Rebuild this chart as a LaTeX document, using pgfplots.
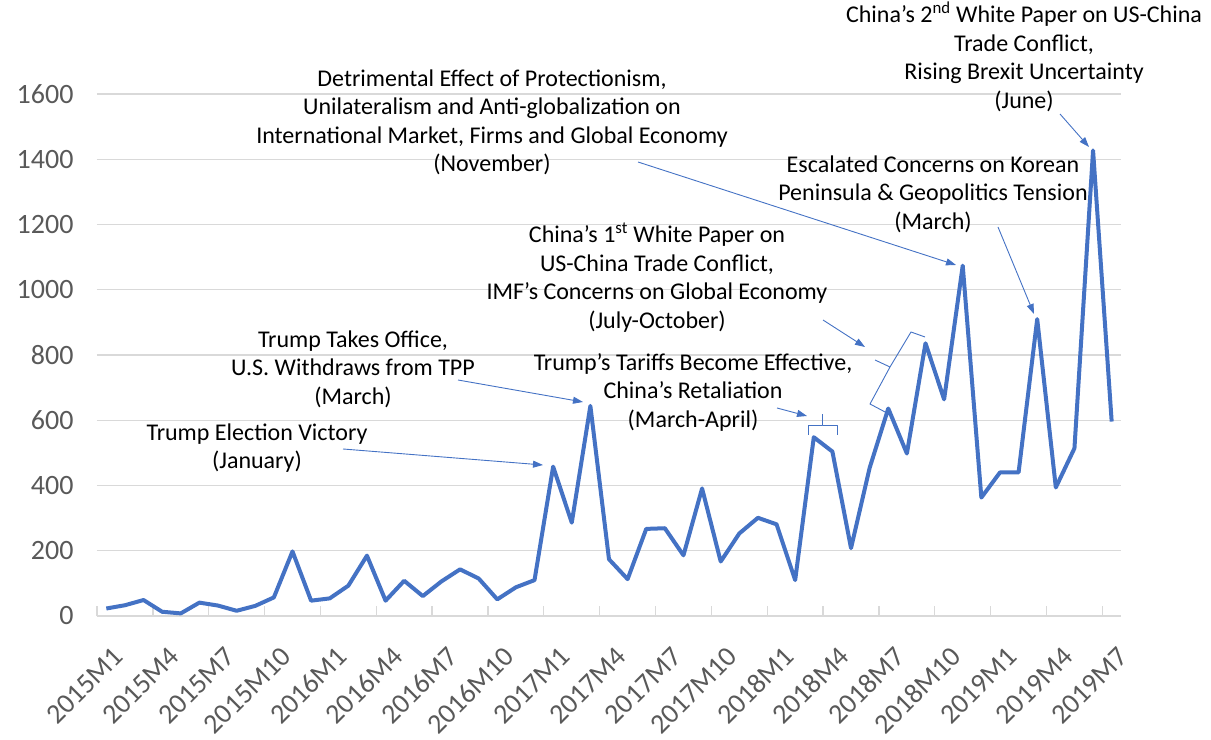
\documentclass[border=0pt]{standalone}
\usepackage{fontspec}
\setmainfont{Carlito}
\usepackage{pgfplots}
\pgfplotsset{compat=1.18}
\usetikzlibrary{arrows.meta}
\definecolor{exblue}{HTML}{4472C4}
\definecolor{tickgray}{HTML}{595959}
\definecolor{gridgray}{HTML}{D9D9D9}
\begin{document}
\begin{tikzpicture}
\begin{axis}[
  at={(0,0)}, anchor=south west,
  scale only axis, width=1024bp, height=522bp,
  xmin=-0.5, xmax=54.5, ymin=0, ymax=1600,
  axis x line*=bottom, axis y line*=left,
  x axis line style={draw=gridgray, line width=1.3bp, -},
  y axis line style={draw=none, -},
  ytick={0,200,...,1600},
  ymajorgrids, grid style={draw=gridgray, line width=1.3bp},
  ytick style={draw=none},
  xtick={0,3,...,54},
  xticklabels={2015M1,2015M4,2015M7,2015M10,2016M1,2016M4,2016M7,2016M10,2017M1,2017M4,2017M7,2017M10,2018M1,2018M4,2018M7,2018M10,2019M1,2019M4,2019M7},
  minor xtick={-0.5,2.5,5.5,8.5,11.5,14.5,17.5,20.5,23.5,26.5,29.5,32.5,35.5,38.5,41.5,44.5,47.5,50.5,53.5},
  xtick style={draw=gridgray, line width=1.3bp},
  major tick length=0pt,
  minor tick length=10bp,
  tick align=inside,
  ticklabel style={text=tickgray},
  yticklabel style={font=\fontsize{28bp}{32bp}\selectfont, xshift=-20bp},
  xticklabel style={font=\fontsize{28bp}{32bp}\selectfont, inner sep=0pt, xshift=12bp, yshift=-36bp, rotate=45, anchor=east},
  /pgf/number format/assume math mode=true,
  /pgf/number format/1000 sep={},
  clip=false,
]
\addplot[exblue, line width=4bp, line join=round, mark=none] coordinates {
(0,23)(1,33)(2,49)(3,13)(4,8)(5,41)(6,32)(7,16)(8,31)(9,57)
(10,198)(11,47)(12,54)(13,93)(14,185)(15,47)(16,108)(17,61)(18,106)(19,143)
(20,115)(21,51)(22,88)(23,110)(24,458)(25,286)(26,644)(27,174)(28,113)(29,267)
(30,269)(31,186)(32,391)(33,167)(34,253)(35,301)(36,281)(37,110)(38,548)(39,504)
(40,208)(41,454)(42,636)(43,498)(44,836)(45,664)(46,1074)(47,363)(48,440)(49,440)
(50,910)(51,394)(52,514)(53,1427)(54,596)
};
\end{axis}
\begin{scope}[shift={(-97bp,616bp)}, x=1bp, y=-1bp,
  every node/.style={font=\fontsize{24bp}{28.5bp}\selectfont, align=center, inner sep=0pt, text=black},
  arr/.style={draw=exblue, line width=0.9bp, -{Triangle[length=10bp,width=7bp]}},
  brc/.style={draw=exblue, line width=0.9bp, line join=round}]
  \path[use as bounding box] (0,0) rectangle (1211,740);
  \node at (257,448) {Trump Election Victory\\(January)};
  \node at (353,369) {Trump Takes Office,\\U.S. Withdraws from TPP\\(March)};
  \node at (657,277.5) {China’s 1\textsuperscript{st} White Paper on\\US-China Trade Conflict,\\IMF’s Concerns on Global Economy\\(July-October)};
  \node at (693,392) {Trump’s Tariffs Become Effective,\\China’s Retaliation\\(March-April)};
  \node at (492,122.5) {Detrimental Effect of Protectionism,\\Unilateralism and Anti-globalization on\\International Market, Firms and Global Economy\\(November)};
  \node at (933,194) {Escalated Concerns on Korean\\Peninsula \& Geopolitics Tension\\(March)};
  \node at (1024,57) {China’s 2\textsuperscript{nd} White Paper on US-China\\Trade Conflict,\\Rising Brexit Uncertainty\\(June)};
  \draw[arr] (343,449) -- (543,465);
  \draw[arr] (458,380) -- (583,402);
  \draw[arr] (823,320) -- (865,347);
  \draw[arr] (777,408) -- (807,416);
  \draw[arr] (638,162) -- (956,265);
  \draw[arr] (998,227) -- (1034,314);
  \draw[arr] (1060,114) -- (1089,147);
  \draw[brc] (808,435) -- (808,425) -- (822.5,425) -- (822.5,414);
  \draw[brc] (822.5,425) -- (837,425) -- (837,435);
  \draw[brc] (887,413) -- (870,404) -- (890,367) -- (875,360);
  \draw[brc] (890,367) -- (911,332) -- (925,337);
\end{scope}
\end{tikzpicture}
\end{document}
